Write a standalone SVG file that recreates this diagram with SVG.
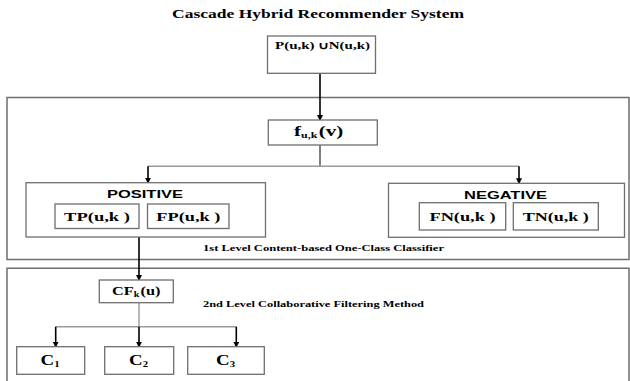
<svg xmlns="http://www.w3.org/2000/svg" width="630" height="381" viewBox="0 0 630 381">
<style>
.bg{fill:#ffffff}
.box{fill:#ffffff;stroke:#6e6e6e;stroke-width:1.3}
.frame{fill:none;stroke:#6e6e6e;stroke-width:1.5}
.ser{font-family:"Liberation Serif","Times New Roman",serif;font-weight:bold;fill:#000}
.san{font-family:"Liberation Sans",Arial,sans-serif;font-weight:bold;fill:#000}
.arr{stroke:#000;stroke-width:1.6;fill:none;marker-end:url(#ah)}
.thin{stroke:#000;stroke-width:1;fill:none}
.gray{stroke:#9a9a9a;stroke-width:1.4;fill:none}
</style>
<defs>
<marker id="ah" markerWidth="6" markerHeight="6" refX="5" refY="3" orient="auto" markerUnits="userSpaceOnUse">
<path d="M0,0 L6,3 L0,6 z" fill="#000"/>
</marker>
</defs>
<rect class="bg" x="0" y="0" width="630" height="381"/>
<text id="title" class="ser" x="318" y="17.5" font-size="13" text-anchor="middle" textLength="292" lengthAdjust="spacingAndGlyphs">Cascade Hybrid Recommender System</text>

<g id="level1">
<rect class="frame" x="7" y="97.5" width="622" height="162"/>
<text class="ser" x="203" y="251" font-size="9" textLength="241" lengthAdjust="spacingAndGlyphs">1st Level Content-based One-Class Classifier</text>
</g>
<g id="level2">
<path class="frame" d="M7,384 V268.3 H629 V384"/>
<text class="ser" x="203" y="307" font-size="9" textLength="221" lengthAdjust="spacingAndGlyphs">2nd Level Collaborative Filtering Method</text>
</g>

<g id="connectors">
<line class="arr" x1="320" y1="73.3" x2="320" y2="120"/>
<line class="thin" x1="320" y1="145" x2="320" y2="166.3"/>
<line class="gray" x1="148" y1="166.3" x2="519" y2="166.3"/>
<line class="arr" x1="148" y1="166.3" x2="148" y2="182.7"/>
<line class="arr" x1="519" y1="166.3" x2="519" y2="183.3"/>
<line class="arr" x1="139" y1="237" x2="139" y2="280"/>
<line class="gray" x1="139" y1="302.7" x2="139" y2="326.7"/>
<line class="gray" x1="55.7" y1="326.7" x2="236.3" y2="326.7"/>
<line class="arr" x1="55.7" y1="326.7" x2="55.7" y2="346.7"/>
<line class="arr" x1="139" y1="326.7" x2="139" y2="346.7"/>
<line class="arr" x1="236.3" y1="326.7" x2="236.3" y2="346.7"/>
</g>

<g id="input">
<rect class="box" x="267.5" y="36" width="108" height="37.3"/>
<text class="ser" x="322.5" y="48.5" font-size="10" text-anchor="middle" textLength="95" lengthAdjust="spacingAndGlyphs">P(u,k) ∪N(u,k)</text>
</g>

<g id="f">
<rect class="box" x="268.3" y="120" width="109" height="25"/>
<text class="ser" transform="translate(294,136) scale(1.5,1)" x="0" y="0" font-size="14">f<tspan font-size="8" dy="1.5">u,k</tspan><tspan dy="-1.5" dx="1">(v)</tspan></text>
</g>

<g id="positive">
<rect class="box" x="26" y="182.7" width="239.5" height="54.3"/>
<text class="san" x="145" y="197.8" font-size="11" text-anchor="middle" textLength="76" lengthAdjust="spacingAndGlyphs">POSITIVE</text>
</g>
<g id="tp">
<rect class="box" x="55" y="204" width="84" height="24.5"/>
<text class="ser" x="97" y="221" font-size="12" text-anchor="middle" textLength="66" lengthAdjust="spacingAndGlyphs">TP(u,k )</text>
</g>
<g id="fp">
<rect class="box" x="147.5" y="204" width="81.5" height="24.5"/>
<text class="ser" x="188.3" y="221" font-size="12" text-anchor="middle" textLength="64" lengthAdjust="spacingAndGlyphs">FP(u,k )</text>
</g>

<g id="negative">
<rect class="box" x="388.5" y="183.3" width="236" height="54"/>
<text class="san" x="505.5" y="198.5" font-size="11" text-anchor="middle" textLength="83" lengthAdjust="spacingAndGlyphs">NEGATIVE</text>
</g>
<g id="fn">
<rect class="box" x="419.3" y="202.7" width="86.4" height="27.3"/>
<text class="ser" x="462.5" y="220.5" font-size="12" text-anchor="middle" textLength="66" lengthAdjust="spacingAndGlyphs">FN(u,k )</text>
</g>
<g id="tn">
<rect class="box" x="513.3" y="202.7" width="85" height="27.3"/>
<text class="ser" x="555.8" y="220.5" font-size="12" text-anchor="middle" textLength="66" lengthAdjust="spacingAndGlyphs">TN(u,k )</text>
</g>

<g id="cf">
<rect class="box" x="99.3" y="280" width="74" height="22.7"/>
<text class="ser" transform="translate(112,294.5) scale(1.25,1)" x="0" y="0" font-size="13">CF<tspan font-size="8" dy="2.5">k</tspan><tspan dy="-2.5" dx="1">(u)</tspan></text>
</g>

<g id="c1">
<rect class="box" x="16.7" y="346.7" width="68" height="27.6"/>
<text class="ser" transform="translate(40.5,365) scale(1.35,1)" x="0" y="0" font-size="14">C<tspan font-size="8" dy="2">1</tspan></text>
</g>
<g id="c2">
<rect class="box" x="104.7" y="346.7" width="69" height="27.6"/>
<text class="ser" transform="translate(129,365) scale(1.35,1)" x="0" y="0" font-size="14">C<tspan font-size="8" dy="2">2</tspan></text>
</g>
<g id="c3">
<rect class="box" x="187.7" y="346.7" width="76.6" height="27.6"/>
<text class="ser" transform="translate(216,365) scale(1.35,1)" x="0" y="0" font-size="14">C<tspan font-size="8" dy="2">3</tspan></text>
</g>
</svg>
